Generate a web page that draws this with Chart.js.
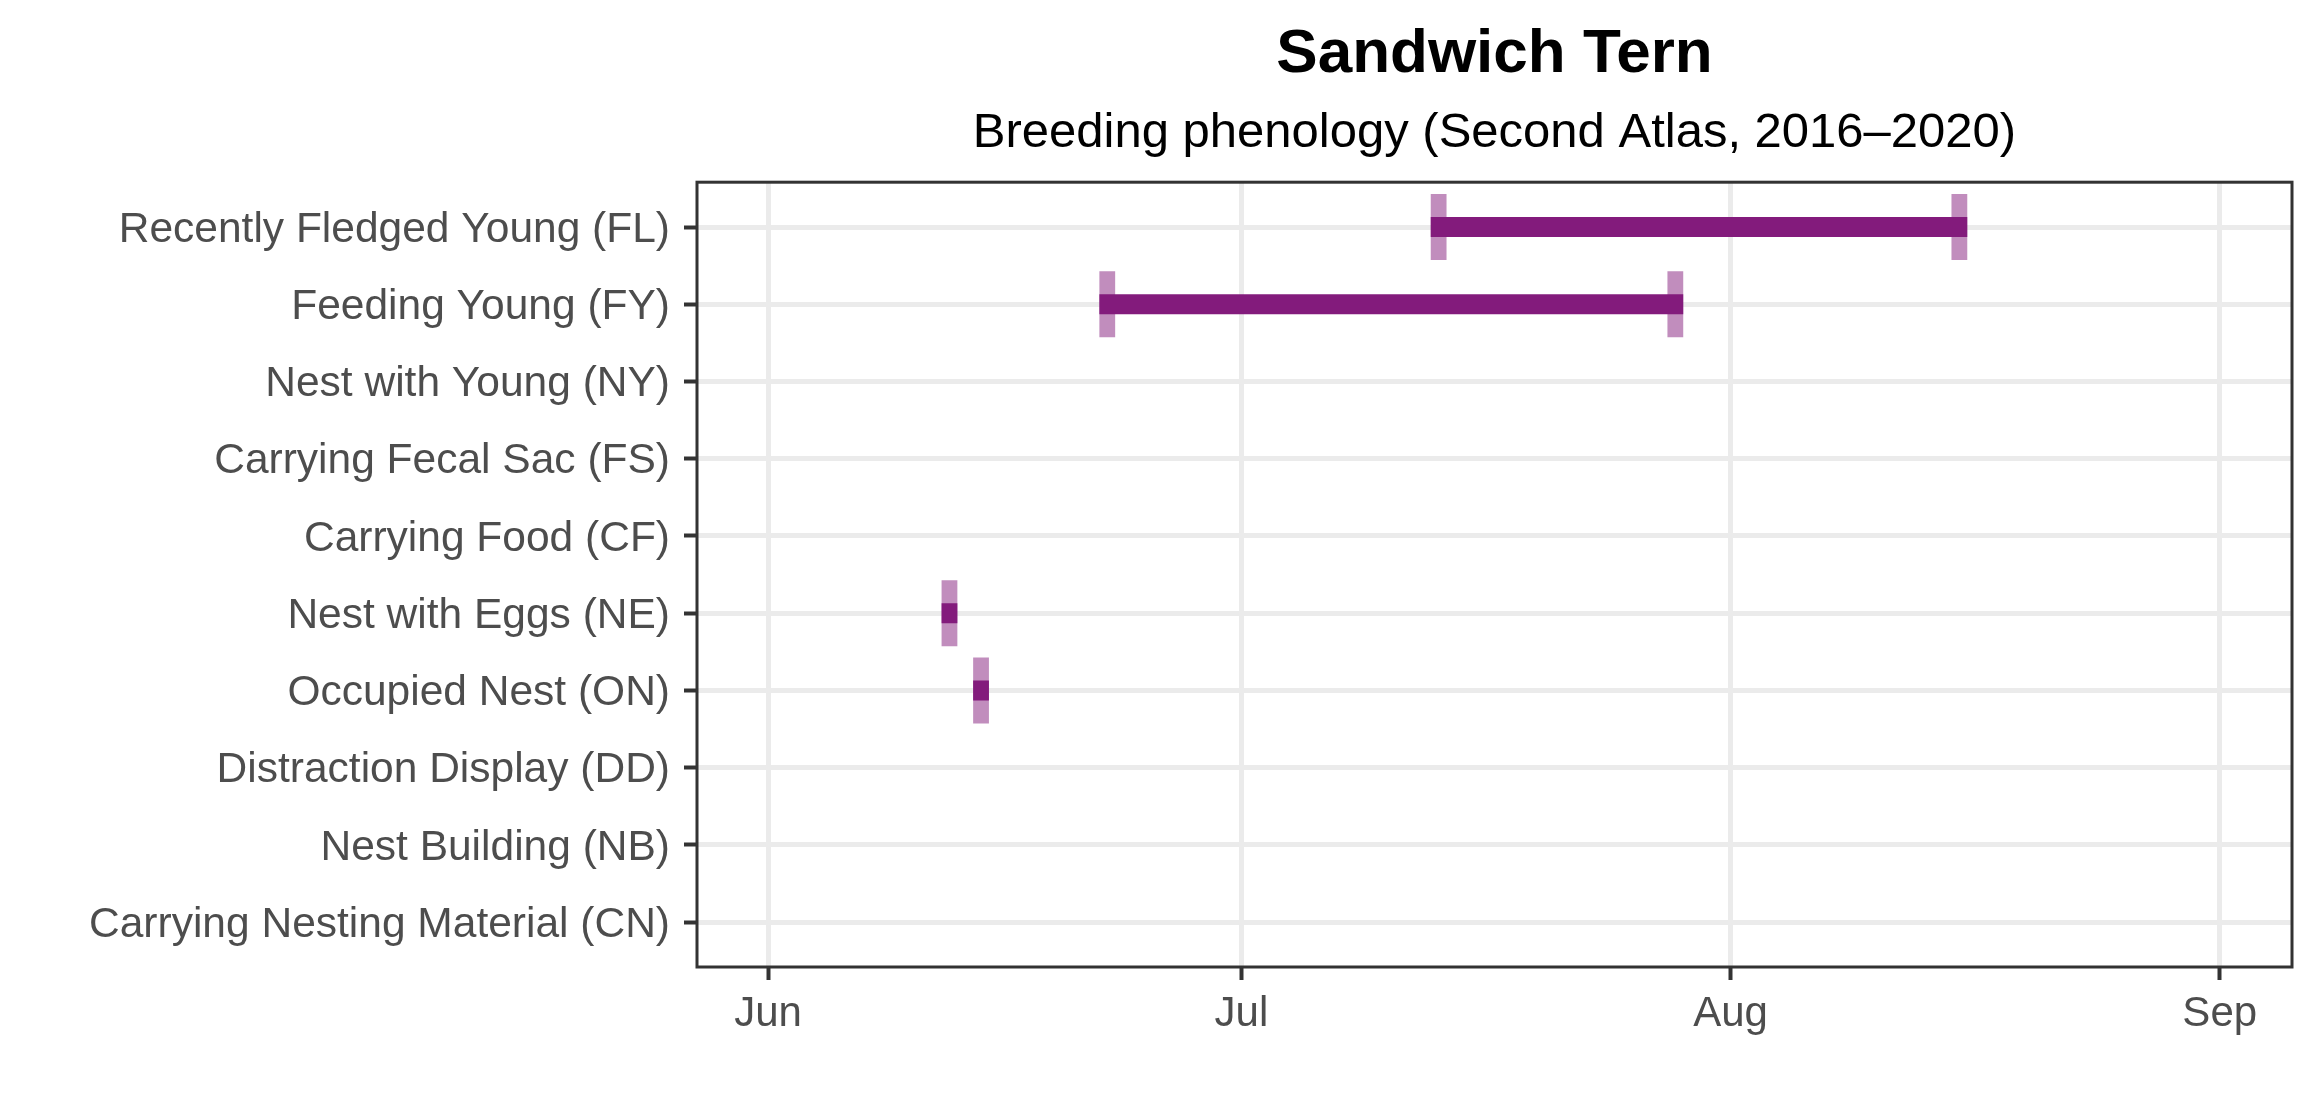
<!DOCTYPE html>
<html lang="en">
<head>
  <meta charset="UTF-8">
  <title>Sandwich Tern - Breeding phenology</title>
  <style>
body {
  margin: 0;
  padding: 0;
  background: #ffffff;
}

.chart-box {
  width: 2320px;
  height: 1120px;
}
  </style>
</head>
<body>

  <div class="chart-box">
    <canvas id="phenologyChart"></canvas>
  </div>

  <script src="https://cdn.jsdelivr.net/npm/chart.js"></script>

  <script>
    // Breeding codes, top to bottom
    const categories = [
      'Recently Fledged Young (FL)',
      'Feeding Young (FY)',
      'Nest with Young (NY)',
      'Carrying Fecal Sac (FS)',
      'Carrying Food (CF)',
      'Nest with Eggs (NE)',
      'Occupied Nest (ON)',
      'Distraction Display (DD)',
      'Nest Building (NB)',
      'Carrying Nesting Material (CN)'
    ];

    // First and last record, day of year (null = no record)
    const firstDay = [194.5, 173.5, null, null, null, 163.5, 165.5, null, null, null];
    const lastDay  = [227.5, 209.5, null, null, null, 163.5, 165.5, null, null, null];

    // Month ticks (day of year) and their labels
    const monthDays = [152, 182, 213, 244];
    const monthLabels = ['Jun', 'Jul', 'Aug', 'Sep'];

    const FONT = '"Liberation Sans", Arial, sans-serif';
    const DARK = '#831b7c';
    const LIGHT = 'rgba(131, 27, 124, 0.5)';

    // range bars: one per code that has records
    const spanData = [];
    // one-day tiles at first and last record
    const tileData = [];
    categories.forEach((c, i) => {
      if (firstDay[i] === null) return;
      spanData.push({ x: [firstDay[i] - 0.5, lastDay[i] + 0.5], y: i });
      tileData.push({ x: [firstDay[i] - 0.5, firstDay[i] + 0.5], y: i });
      if (lastDay[i] !== firstDay[i]) {
        tileData.push({ x: [lastDay[i] - 0.5, lastDay[i] + 0.5], y: i });
      }
    });

    // panel border drawn on top, like ggplot's panel.border
    const panelFrame = {
      id: 'panelFrame',
      afterDatasetsDraw(chart) {
        const a = chart.chartArea;
        const ctx = chart.ctx;
        ctx.save();
        ctx.strokeStyle = '#333333';
        ctx.lineWidth = 3;
        ctx.strokeRect(a.left, a.top, a.right - a.left, a.bottom - a.top);
        ctx.restore();
      }
    };

    const ctx = document.getElementById('phenologyChart').getContext('2d');

    new Chart(ctx, {
      type: 'bar',
      data: {
        datasets: [
          {
            label: 'Record span',
            data: spanData,
            backgroundColor: DARK,
            barThickness: 20,
            grouped: false,
            order: 0
          },
          {
            label: 'First / last record',
            data: tileData,
            backgroundColor: LIGHT,
            barThickness: 66,
            grouped: false,
            order: 1
          }
        ]
      },
      plugins: [panelFrame],
      options: {
        indexAxis: 'y',
        responsive: true,
        maintainAspectRatio: false,
        devicePixelRatio: 1,
        animation: false,
        layout: {
          padding: { top: 0, right: 28, bottom: 0, left: 0 }
        },
        elements: {
          bar: { borderWidth: 0, inflateAmount: 0 }
        },
        plugins: {
          legend: { display: false },
          tooltip: { enabled: false },
          title: {
            display: true,
            text: 'Sandwich Tern',
            color: '#000000',
            fullSize: false,
            font: { family: FONT, size: 62, weight: 'bold' },
            padding: { top: 18, bottom: 0 }
          },
          subtitle: {
            display: true,
            text: 'Breeding phenology (Second Atlas, 2016\u20132020)',
            color: '#000000',
            fullSize: false,
            font: { family: FONT, size: 49, weight: 'normal' },
            padding: { top: 12, bottom: 19 }
          }
        },
        scales: {
          x: {
            type: 'linear',
            position: 'bottom',
            min: 147.5,
            max: 248.58,
            offset: false,
            afterBuildTicks: (scale) => {
              scale.ticks = monthDays.map(v => ({ value: v }));
            },
            afterFit: (scale) => {
              scale.height = 153;
            },
            ticks: {
              autoSkip: false,
              maxRotation: 0,
              padding: 9,
              color: '#4d4d4d',
              font: { family: FONT, size: 42 },
              callback: (value) => monthLabels[monthDays.indexOf(value)]
            },
            grid: {
              offset: false,
              color: '#ebebeb',
              lineWidth: 5,
              tickColor: '#333333',
              tickWidth: 4,
              tickLength: 13
            },
            border: { display: false }
          },
          y: {
            type: 'linear',
            position: 'left',
            reverse: true,
            min: -0.58,
            max: 9.58,
            offset: false,
            afterBuildTicks: (scale) => {
              scale.ticks = categories.map((c, i) => ({ value: i }));
            },
            afterFit: (scale) => {
              scale.width = 697;
            },
            ticks: {
              autoSkip: false,
              padding: 14,
              labelOffset: 3,
              color: '#4d4d4d',
              font: { family: FONT, size: 42.5 },
              callback: (value) => categories[value]
            },
            grid: {
              offset: false,
              color: '#ebebeb',
              lineWidth: 5,
              tickColor: '#333333',
              tickWidth: 4,
              tickLength: 13
            },
            border: { display: false }
          }
        }
      }
    });
  </script>

</body>
</html>
